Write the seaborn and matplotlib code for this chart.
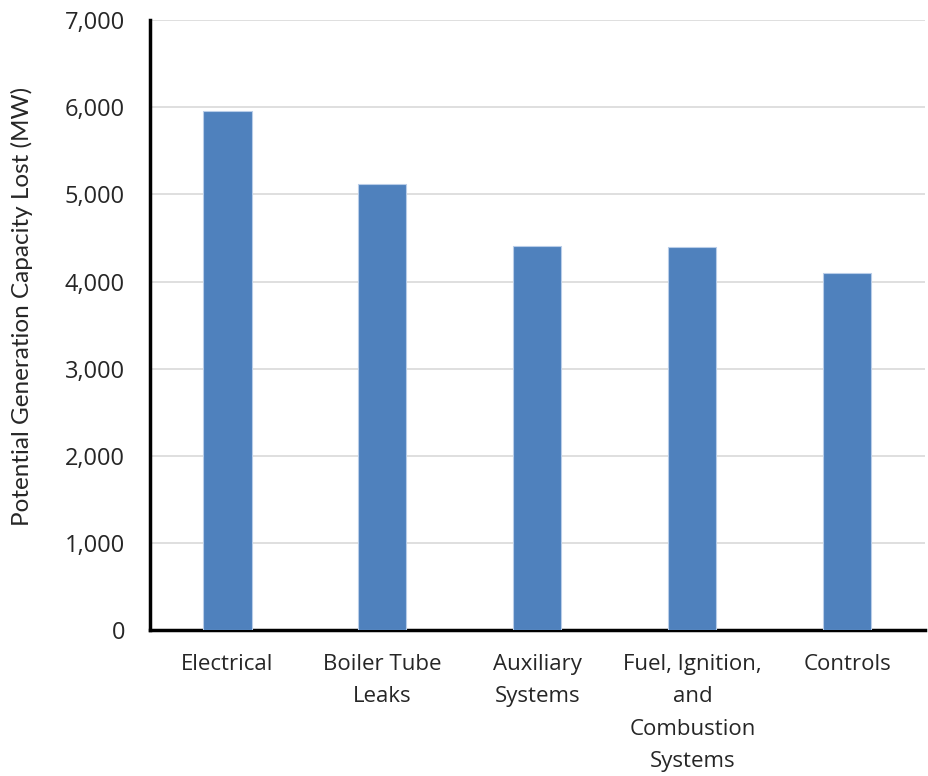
import matplotlib
matplotlib.use("Agg")
import matplotlib.pyplot as plt
import seaborn as sns
import pandas as pd

# Values
categories = ["Electrical", "Boiler Tube\nLeaks", "Auxiliary\nSystems",
              "Fuel, Ignition,\nand\nCombustion\nSystems", "Controls"]
capacity_lost = [5960, 5120, 4410, 4400, 4100]
y_ticks = [0, 1000, 2000, 3000, 4000, 5000, 6000, 7000]

df = pd.DataFrame({"cause": categories, "mw": capacity_lost})

sns.set_style("white")
plt.rcParams["font.family"] = ["Open Sans", "DejaVu Sans"]

fig = plt.figure(figsize=(9.29, 7.76), dpi=100)
ax = fig.add_axes([0.1615, 0.188, 0.834, 0.786])

sns.barplot(data=df, x="cause", y="mw", color="#4f81bd", width=0.31,
            saturation=1, edgecolor="#b9cde8", linewidth=0.8, ax=ax, zorder=3)

ax.set_ylim(0, 7000)
ax.set_xlim(-0.5, 4.5)
ax.set_yticks(y_ticks)
ax.set_yticklabels([f"{v:,}" for v in y_ticks], fontsize=17)
ax.tick_params(axis="x", labelsize=16, length=0, pad=17)
ax.tick_params(axis="y", length=0, pad=18)
for lbl in ax.get_xticklabels():
    lbl.set_linespacing(1.72)

ax.yaxis.grid(True, color="#d9d9d9", linewidth=1.2, zorder=0)
ax.set_axisbelow(True)

for side in ["top", "right"]:
    ax.spines[side].set_visible(False)
for side in ["left", "bottom"]:
    ax.spines[side].set_color("black")
    ax.spines[side].set_linewidth(2.5)

ax.set_xlabel("")
ax.set_ylabel("Potential Generation Capacity Lost (MW)", fontsize=17.5,
              family=["Lato", "DejaVu Sans"], va="center")
ax.yaxis.set_label_coords(-0.165, 0.53)

fig.savefig("out.png", dpi=100)
